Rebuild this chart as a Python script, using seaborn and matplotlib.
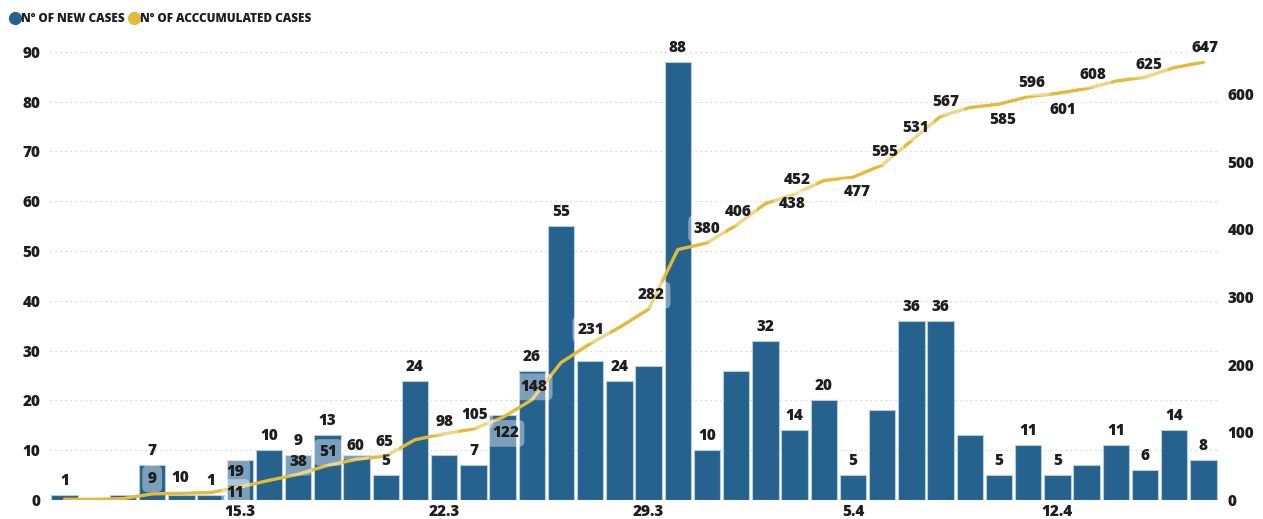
import matplotlib
matplotlib.use("Agg")
import matplotlib.pyplot as plt
from matplotlib.lines import Line2D
import seaborn as sns
import pandas as pd
import numpy as np

# Daily dates (9 March - 17 April)
dates = [f"{d}.3" for d in range(9, 32)] + [f"{d}.4" for d in range(1, 18)]

new_cases = [1, 0, 1, 7, 1, 1, 8, 10, 9, 13, 9, 5, 24, 9, 7, 17, 26, 55, 28, 24,
             27, 88, 10, 26, 32, 14, 20, 5, 18, 36, 36, 13, 5, 11, 5, 7, 11, 6, 14, 8]

accumulated = [1, 1, 2, 9, 10, 11, 19, 29, 38, 51, 60, 65, 89, 98, 105, 122, 148, 203,
               231, 255, 282, 370, 380, 406, 438, 452, 472, 477, 495, 531, 567, 580,
               585, 596, 601, 608, 619, 625, 639, 647]

tick_dates = ["15.3", "22.3", "29.3", "5.4", "12.4"]

# Which daily values carry a printed label
new_label_days = [0, 3, 5, 7, 8, 9, 11, 12, 14, 16, 17, 19, 21, 22, 24, 25, 26, 27,
                  29, 30, 32, 33, 34, 36, 37, 38, 39]

# Printed labels on the accumulated line (day index -> text)
accum_label_days = [3, 4, 5, 6, 8, 9, 10, 11, 13, 14, 15, 16, 18, 20, 22, 23, 24, 25,
                    27, 28, 29, 30, 32, 33, 34, 35, 37, 39]
accum_label_text = ["9", "10", "11", "19", "38", "51", "60", "65", "98", "105", "122",
                    "148", "231", "282", "380", "406", "438", "452", "477", "595",
                    "531", "567", "585", "596", "601", "608", "625", "647"]

# Label placement (pixel offsets from the marker)
NEW_LABEL_LIFT = 14
accum_label_offset = {
    3: (0, 15), 4: (-1, 15), 5: (25, 0), 6: (-4, 15), 8: (0, 12), 9: (1, 13),
    10: (-1, 13), 11: (-1, 14), 13: (0, 12), 14: (1, 14), 15: (3, -16),
    16: (2, 13), 18: (1, 14), 20: (3, 14), 22: (0, 14), 23: (2, 13),
    24: (27, 0), 25: (3, 14), 27: (4, -15), 28: (3, 13), 29: (4, 13),
    30: (5, 14), 32: (4, -16), 33: (4, 14), 34: (5, -17), 35: (6, 14),
    37: (4, 12), 39: (2, 14),
}

BLUE = "#26628e"
GOLD = "#e4bb38"
TEXT = "#1e1e1e"
FS = 11

sns.set_theme(style="white")
plt.rcParams["font.family"] = ["Open Sans", "DejaVu Sans"]
plt.rcParams["font.weight"] = "bold"

df = pd.DataFrame({"date": dates, "new": new_cases, "acc": accumulated,
                   "pos": np.arange(len(dates))})

fig = plt.figure(figsize=(12.63, 5.19), dpi=100)
ax = fig.add_axes([50 / 1263, 19 / 519, 1168 / 1263, 473 / 519])

sns.barplot(data=df, x="date", y="new", color=BLUE, saturation=1, width=0.9,
            edgecolor="#b8cbdc", linewidth=0.8, ax=ax, zorder=2)

ax.set_ylim(0, 95)
ax.set_xlim(-0.5, len(dates) - 0.5)
ax.set_yticks(range(0, 91, 10))
ax.yaxis.grid(True, linestyle=(0, (1, 3)), color="#c9cdd2", linewidth=0.9)
ax.set_axisbelow(True)
ax.set_xlabel("")
ax.set_ylabel("")
ax.set_xticks([dates.index(t) for t in tick_dates])
ax.set_xticklabels(tick_dates)
ax.tick_params(axis="x", length=0, pad=3, labelsize=FS, labelcolor=TEXT)
ax.tick_params(axis="y", length=0, pad=7, labelsize=FS, labelcolor=TEXT)
for lab in ax.get_xticklabels() + ax.get_yticklabels():
    lab.set_fontweight("heavy")
for s in ax.spines.values():
    s.set_visible(False)

ax2 = ax.twinx()
sns.lineplot(data=df, x="pos", y="acc", color=GOLD, linewidth=2.4, ax=ax2, zorder=3)
ax2.set_ylim(0, 699)
ax2.set_xlim(-0.5, len(dates) - 0.5)
ax2.set_yticks(range(0, 601, 100))
ax2.set_xlabel("")
ax2.set_ylabel("")
ax2.grid(False)
ax2.tick_params(axis="y", length=0, pad=7, labelsize=FS, labelcolor=TEXT)
for lab in ax2.get_yticklabels():
    lab.set_fontweight("heavy")
for s in ax2.spines.values():
    s.set_visible(False)

# Daily labels above the bars
for i in new_label_days:
    ax2.annotate(str(new_cases[i]), xy=(i, new_cases[i] * 699 / 95),
                 xytext=(0, NEW_LABEL_LIFT), textcoords="offset pixels",
                 ha="center", va="center", fontsize=FS, fontweight="heavy",
                 color=TEXT, zorder=5)

# Accumulated labels along the line
for i, txt in zip(accum_label_days, accum_label_text):
    dx, dy = accum_label_offset[i]
    ax2.annotate(txt, xy=(i, accumulated[i]), xytext=(dx, dy),
                 textcoords="offset pixels", ha="center", va="center",
                 fontsize=FS, fontweight="heavy", color=TEXT, zorder=6,
                 bbox=dict(boxstyle="round,pad=0.35", fc="white", ec="none",
                           alpha=0.4))

handles = [
    Line2D([], [], marker="o", linestyle="none", markersize=8.5, color=BLUE),
    Line2D([], [], marker="o", linestyle="none", markersize=8.5, color=GOLD),
]
fig.legend(handles, ["Nº OF NEW CASES", "Nº OF ACCCUMULATED CASES"],
           loc="upper left", bbox_to_anchor=(0.0, 0.993), ncol=2, frameon=False,
           prop={"size": 8.5, "weight": "heavy"}, handletextpad=0.0,
           columnspacing=0.3, handlelength=1.0, borderaxespad=0.4,
           labelcolor=TEXT)

fig.savefig("out.png", dpi=100, facecolor="white")
